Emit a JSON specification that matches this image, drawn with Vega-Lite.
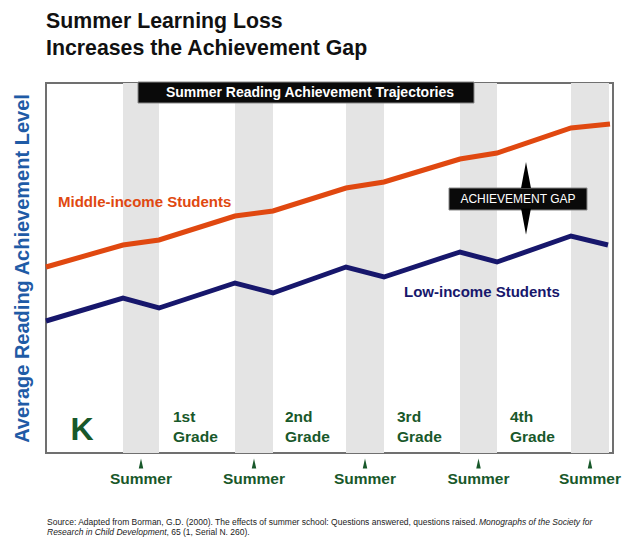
{
  "$schema": "https://vega.github.io/schema/vega-lite/v6.json",
  "autosize": "none",
  "width": 567,
  "height": 370,
  "padding": {"left": 46, "top": 83, "right": 11, "bottom": 95},
  "background": "white",
  "title": {
    "text": ["Summer Learning Loss", "Increases the Achievement Gap"],
    "anchor": "start",
    "frame": "group",
    "font": "Liberation Sans",
    "fontSize": 21.3,
    "fontWeight": "bold",
    "color": "#111111",
    "lineHeight": 27,
    "offset": 22
  },
  "config": {
    "view": {"stroke": "#707070", "strokeWidth": 2},
    "font": "Liberation Sans"
  },
  "datasets": {
    "bands": [
      {"x0": 77, "x1": 113},
      {"x0": 189, "x1": 227},
      {"x0": 300, "x1": 338},
      {"x0": 414, "x1": 451},
      {"x0": 525, "x1": 563}
    ],
    "boxes": [
      {"x0": 92, "x1": 428, "y0": 350, "y1": 371},
      {"x0": 403, "x1": 541, "y0": 243, "y1": 265}
    ],
    "lines": [
      {"series": "Middle-income Students", "x": 0, "y": 186},
      {"series": "Middle-income Students", "x": 77, "y": 208},
      {"series": "Middle-income Students", "x": 113, "y": 213},
      {"series": "Middle-income Students", "x": 189, "y": 237},
      {"series": "Middle-income Students", "x": 227, "y": 242},
      {"series": "Middle-income Students", "x": 300, "y": 265},
      {"series": "Middle-income Students", "x": 338, "y": 271},
      {"series": "Middle-income Students", "x": 414, "y": 294},
      {"series": "Middle-income Students", "x": 451, "y": 300},
      {"series": "Middle-income Students", "x": 525, "y": 325},
      {"series": "Middle-income Students", "x": 564, "y": 329},
      {"series": "Low-income Students", "x": 0, "y": 132},
      {"series": "Low-income Students", "x": 77, "y": 155},
      {"series": "Low-income Students", "x": 113, "y": 145},
      {"series": "Low-income Students", "x": 189, "y": 170},
      {"series": "Low-income Students", "x": 227, "y": 160},
      {"series": "Low-income Students", "x": 300, "y": 186},
      {"series": "Low-income Students", "x": 338, "y": 176},
      {"series": "Low-income Students", "x": 414, "y": 201},
      {"series": "Low-income Students", "x": 451, "y": 191},
      {"series": "Low-income Students", "x": 525, "y": 217},
      {"series": "Low-income Students", "x": 562, "y": 208}
    ],
    "seriesLabels": [
      {"series": "Middle-income Students", "x": 12, "y": 246},
      {"series": "Low-income Students", "x": 358, "y": 156}
    ],
    "arrows": [
      {"dir": "up", "x": 480, "y": 278},
      {"dir": "down", "x": 480, "y": 231.5}
    ],
    "grades": [
      {"label": "1st\nGrade", "x": 127, "y": 31},
      {"label": "2nd\nGrade", "x": 239, "y": 31},
      {"label": "3rd\nGrade", "x": 351, "y": 31},
      {"label": "4th\nGrade", "x": 464, "y": 31}
    ],
    "summers": [
      {"label": "Summer", "x": 95},
      {"label": "Summer", "x": 208},
      {"label": "Summer", "x": 319},
      {"label": "Summer", "x": 432.5},
      {"label": "Summer", "x": 544}
    ],
    "sourceRegular": [
      {"t": "Source: Adapted from Borman, G.D. (2000). The effects of summer school: Questions answered, questions raised.", "x": 1, "y": -71.5},
      {"t": ", 65 (1, Serial N. 260).", "x": 120.5, "y": -81.5}
    ],
    "sourceItalic": [
      {"t": "Monographs of the Society for", "x": 433, "y": -71.5},
      {"t": "Research in Child Development", "x": 1, "y": -81.5}
    ]
  },
  "layer": [
    {
      "data": {"name": "bands"},
      "mark": {"type": "rect", "color": "#e4e4e4"},
      "encoding": {
        "x": {"field": "x0", "type": "quantitative", "scale": {"domain": [0, 567], "nice": false, "zero": false}, "axis": null},
        "x2": {"field": "x1"},
        "y": {"datum": 0, "type": "quantitative", "scale": {"domain": [0, 370], "nice": false, "zero": false},
          "axis": {"title": "Average Reading Achievement Level", "titleFont": "Liberation Sans", "titleFontSize": 20, "titleFontWeight": "bold", "titleColor": "#1f5ba6", "titlePadding": 14, "labels": false, "ticks": false, "domain": false, "grid": false}},
        "y2": {"datum": 370}
      }
    },
    {
      "data": {"name": "boxes"},
      "mark": {"type": "rect", "color": "#0a0a0a", "stroke": "#888888", "strokeWidth": 1},
      "encoding": {
        "x": {"field": "x0", "type": "quantitative"},
        "x2": {"field": "x1"},
        "y": {"field": "y0", "type": "quantitative"},
        "y2": {"field": "y1"}
      }
    },
    {
      "data": {"name": "lines"},
      "mark": {"type": "line", "strokeWidth": 5, "strokeJoin": "miter"},
      "encoding": {
        "x": {"field": "x", "type": "quantitative"},
        "y": {"field": "y", "type": "quantitative"},
        "color": {"field": "series", "type": "nominal", "scale": {"domain": ["Middle-income Students", "Low-income Students"], "range": ["#e04810", "#17176c"]}, "legend": null}
      }
    },
    {
      "data": {"name": "seriesLabels"},
      "mark": {"type": "text", "align": "left", "baseline": "alphabetic", "fontSize": 15, "fontWeight": "bold", "font": "Liberation Sans"},
      "encoding": {
        "x": {"field": "x", "type": "quantitative"},
        "y": {"field": "y", "type": "quantitative"},
        "text": {"field": "series"},
        "color": {"field": "series", "type": "nominal", "legend": null}
      }
    },
    {
      "data": {"values": [{"t": "Summer Reading Achievement Trajectories", "x": 264, "y": 360.5}]},
      "mark": {"type": "text", "align": "center", "baseline": "middle", "fontSize": 14, "fontWeight": "bold", "font": "Liberation Sans", "color": "white"},
      "encoding": {
        "x": {"field": "x", "type": "quantitative"},
        "y": {"field": "y", "type": "quantitative"},
        "text": {"field": "t"}
      }
    },
    {
      "data": {"values": [{"t": "ACHIEVEMENT GAP", "x": 472, "y": 254}]},
      "mark": {"type": "text", "align": "center", "baseline": "middle", "fontSize": 12, "font": "Liberation Sans", "color": "white"},
      "encoding": {
        "x": {"field": "x", "type": "quantitative"},
        "y": {"field": "y", "type": "quantitative"},
        "text": {"field": "t"}
      }
    },
    {
      "data": {"name": "arrows"},
      "mark": {"type": "point", "filled": true, "color": "#000000", "size": 676, "opacity": 1},
      "encoding": {
        "x": {"field": "x", "type": "quantitative"},
        "y": {"field": "y", "type": "quantitative"},
        "shape": {"field": "dir", "type": "nominal", "scale": {"domain": ["up", "down"], "range": ["M0,-1L0.38,1L-0.38,1Z", "M0,1L0.38,-1L-0.38,-1Z"]}, "legend": null}
      }
    },
    {
      "data": {"values": [{"t": "K", "x": 36, "y": 13}]},
      "mark": {"type": "text", "align": "center", "baseline": "alphabetic", "fontSize": 32, "fontWeight": "bold", "font": "Liberation Sans", "color": "#18582a"},
      "encoding": {
        "x": {"field": "x", "type": "quantitative"},
        "y": {"field": "y", "type": "quantitative"},
        "text": {"field": "t"}
      }
    },
    {
      "data": {"name": "grades"},
      "mark": {"type": "text", "align": "left", "baseline": "alphabetic", "fontSize": 15.5, "fontWeight": "bold", "font": "Liberation Sans", "color": "#18582a", "lineBreak": "\n", "lineHeight": 20},
      "encoding": {
        "x": {"field": "x", "type": "quantitative"},
        "y": {"field": "y", "type": "quantitative"},
        "text": {"field": "label"}
      }
    },
    {
      "data": {"name": "summers"},
      "mark": {"type": "point", "filled": true, "color": "#18582a", "size": 100, "opacity": 1, "shape": "M0,-1L0.45,1L-0.45,1Z"},
      "encoding": {
        "x": {"field": "x", "type": "quantitative"},
        "y": {"datum": -10.5, "type": "quantitative"}
      }
    },
    {
      "data": {"name": "summers"},
      "mark": {"type": "text", "align": "center", "baseline": "alphabetic", "fontSize": 15.5, "fontWeight": "bold", "font": "Liberation Sans", "color": "#18582a"},
      "encoding": {
        "x": {"field": "x", "type": "quantitative"},
        "y": {"datum": -31, "type": "quantitative"},
        "text": {"field": "label"}
      }
    },
    {
      "data": {"name": "sourceRegular"},
      "mark": {"type": "text", "align": "left", "baseline": "alphabetic", "fontSize": 8.5, "font": "Liberation Sans", "color": "#222222"},
      "encoding": {
        "x": {"field": "x", "type": "quantitative"},
        "y": {"field": "y", "type": "quantitative"},
        "text": {"field": "t"}
      }
    },
    {
      "data": {"name": "sourceItalic"},
      "mark": {"type": "text", "align": "left", "baseline": "alphabetic", "fontSize": 8.5, "fontStyle": "italic", "font": "Liberation Sans", "color": "#222222"},
      "encoding": {
        "x": {"field": "x", "type": "quantitative"},
        "y": {"field": "y", "type": "quantitative"},
        "text": {"field": "t"}
      }
    }
  ]
}
